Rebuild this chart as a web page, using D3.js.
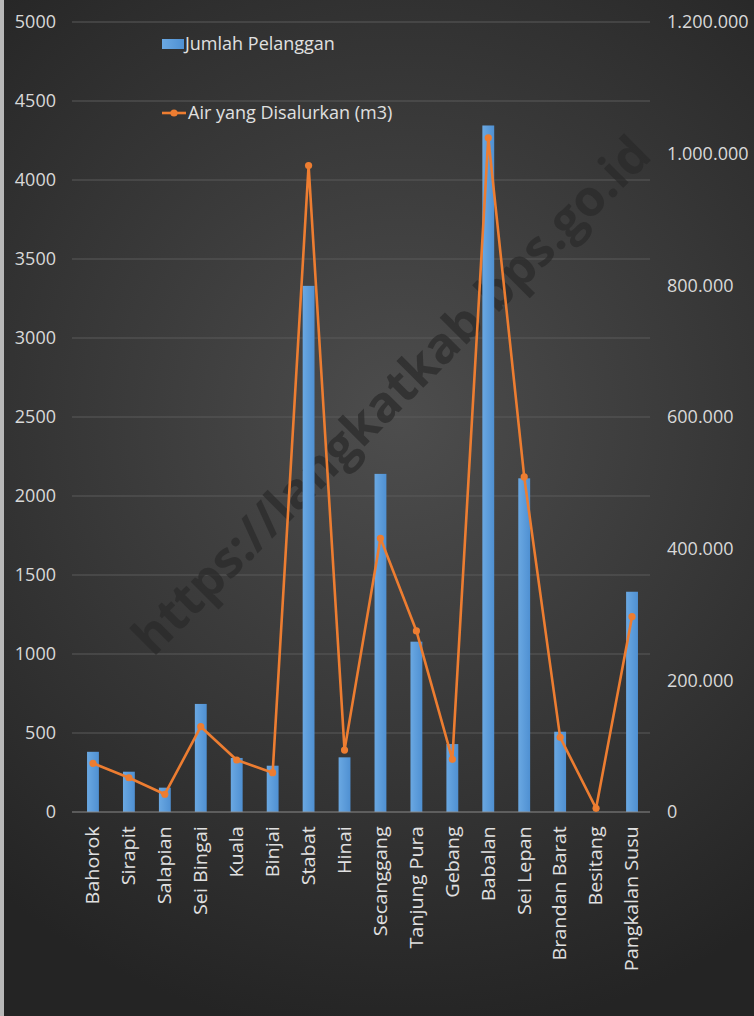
<!DOCTYPE html>
<html>
<head>
<meta charset="utf-8">
<script src="https://cdn.jsdelivr.net/npm/d3@7"></script>
<style>
  body { margin: 0; background: #2a2a2a; }
  svg text { font-family: "Open Sans", "Noto Sans", sans-serif; }
</style>
</head>
<body>
<div id="chart"></div>
<script>
// data
const categories = ["Bahorok", "Sirapit", "Salapian", "Sei Bingai", "Kuala", "Binjai", "Stabat", "Hinai",
    "Secanggang", "Tanjung Pura", "Gebang", "Babalan", "Sei Lepan", "Brandan Barat", "Besitang", "Pangkalan Susu"];
const pelanggan = [381, 255, 154, 684, 342, 293, 3330, 346, 2140, 1078, 430, 4345, 2112, 508, 0, 1394];
const airDisalurkan = [74000, 52000, 27000, 129600, 79000, 59700, 982000, 94000, 415700, 275000, 80000, 1024000, 509000, 113400, 5600, 296700];
const leftTicks = [0, 500, 1000, 1500, 2000, 2500, 3000, 3500, 4000, 4500, 5000];
const rightTicks = [0, 200000, 400000, 600000, 800000, 1000000, 1200000];

const W = 754, H = 1016;
const plot = { left: 75, right: 650, top: 22, bottom: 812 };

const svg = d3.select("#chart").append("svg")
    .attr("width", W)
    .attr("height", H);

const defs = svg.append("defs");
const bg = defs.append("radialGradient").attr("id", "bg")
    .attr("gradientUnits", "userSpaceOnUse")
    .attr("cx", 400).attr("cy", 420).attr("r", 620);
bg.append("stop").attr("offset", "0%").attr("stop-color", "#4d4d4d");
bg.append("stop").attr("offset", "100%").attr("stop-color", "#242424");

const barGrad = defs.append("linearGradient").attr("id", "barGrad")
    .attr("x1", 0).attr("x2", 1).attr("y1", 0).attr("y2", 0);
barGrad.append("stop").attr("offset", "0%").attr("stop-color", "#6aa8e2");
barGrad.append("stop").attr("offset", "100%").attr("stop-color", "#4f90d2");

svg.append("rect").attr("width", W).attr("height", H).attr("fill", "url(#bg)");
svg.append("rect").attr("width", 4).attr("height", H).attr("fill", "#b8b8b8");

// scales
const x = d3.scaleBand()
    .domain(categories)
    .range([plot.left, plot.right])
    .paddingInner(0.67)
    .paddingOuter(0.335);

const y = d3.scaleLinear().domain([0, 5000]).range([plot.bottom, plot.top]);
const y2 = d3.scaleLinear().domain([0, 1200000]).range([plot.bottom, plot.top]);

const idLocale = d3.formatLocale({ decimal: ",", thousands: ".", grouping: [3], currency: ["", ""] });

// gridlines
svg.append("g")
    .selectAll("line")
    .data(leftTicks.filter(d => d > 0))
    .enter()
    .append("line")
    .attr("x1", 72).attr("x2", plot.right)
    .attr("y1", d => y(d)).attr("y2", d => y(d))
    .attr("stroke", "#5a5a5a")
    .attr("stroke-width", 1);

// watermark
svg.append("text")
    .attr("transform", "translate(394,398) rotate(-45)")
    .attr("text-anchor", "middle")
    .attr("dominant-baseline", "middle")
    .style("font-weight", "bold")
    .style("font-size", "50px")
    .attr("fill", "#2a2a2a")
    .attr("fill-opacity", 0.7)
    .text("https://langkatkab.bps.go.id");

// bars
svg.selectAll(".bar")
    .data(categories)
    .enter()
    .append("rect")
    .attr("class", "bar")
    .attr("x", d => x(d))
    .attr("y", (d, i) => y(pelanggan[i]))
    .attr("width", x.bandwidth())
    .attr("height", (d, i) => plot.bottom - y(pelanggan[i]))
    .attr("fill", "url(#barGrad)");

// axis baseline
svg.append("line")
    .attr("x1", 72).attr("x2", plot.right)
    .attr("y1", plot.bottom).attr("y2", plot.bottom)
    .attr("stroke", "#8a8a8a").attr("stroke-width", 1.2);

// left axis
const leftAxis = svg.append("g")
    .attr("transform", "translate(56,0)")
    .call(d3.axisLeft(y).tickValues(leftTicks).tickSize(0).tickPadding(0).tickFormat(d3.format("d")));
leftAxis.select(".domain").remove();
leftAxis.selectAll("text")
    .style("font-size", "18px")
    .style("fill", "#d9d9d9");

// right axis
const rightAxis = svg.append("g")
    .attr("transform", "translate(667,0)")
    .call(d3.axisRight(y2).tickValues(rightTicks).tickSize(0).tickPadding(0).tickFormat(idLocale.format(",d")));
rightAxis.select(".domain").remove();
rightAxis.selectAll("text")
    .style("font-size", "18px")
    .style("fill", "#d9d9d9");

// x axis labels
const xAxis = svg.append("g")
    .attr("transform", `translate(0,${plot.bottom})`)
    .call(d3.axisBottom(x).tickSize(0).tickPadding(0));
xAxis.select(".domain").remove();
xAxis.selectAll("text")
    .attr("transform", "rotate(-90) scale(1.1,1)")
    .attr("x", -13)
    .attr("y", 0)
    .attr("dy", "0.35em")
    .attr("text-anchor", "end")
    .style("font-size", "18px")
    .style("fill", "#e0e0e0");

// line
const cx = d => x(d) + x.bandwidth() / 2;
const line = d3.line()
    .x(d => cx(d))
    .y((d, i) => y2(airDisalurkan[i]));

svg.append("path")
    .datum(categories)
    .attr("d", line)
    .attr("fill", "none")
    .attr("stroke", "#ed7d31")
    .attr("stroke-width", 2.6)
    .attr("stroke-linejoin", "round");

svg.selectAll(".dot")
    .data(categories)
    .enter()
    .append("circle")
    .attr("class", "dot")
    .attr("cx", d => cx(d))
    .attr("cy", (d, i) => y2(airDisalurkan[i]))
    .attr("r", 3.6)
    .attr("fill", "#ed7d31");

// legend
const legend = svg.append("g");
legend.append("rect")
    .attr("x", 162).attr("y", 39)
    .attr("width", 22).attr("height", 10)
    .attr("fill", "url(#barGrad)");
legend.append("text")
    .attr("x", 185).attr("y", 44)
    .attr("dy", "0.35em")
    .style("font-size", "18px")
    .style("fill", "#e0e0e0")
    .text("Jumlah Pelanggan");
legend.append("line")
    .attr("x1", 162).attr("x2", 186)
    .attr("y1", 113).attr("y2", 113)
    .attr("stroke", "#ed7d31").attr("stroke-width", 2.6);
legend.append("circle")
    .attr("cx", 174).attr("cy", 113).attr("r", 3.6)
    .attr("fill", "#ed7d31");
legend.append("text")
    .attr("x", 188).attr("y", 113)
    .attr("dy", "0.35em")
    .style("font-size", "18px")
    .style("fill", "#e0e0e0")
    .text("Air yang Disalurkan (m3)");
</script>
</body>
</html>
